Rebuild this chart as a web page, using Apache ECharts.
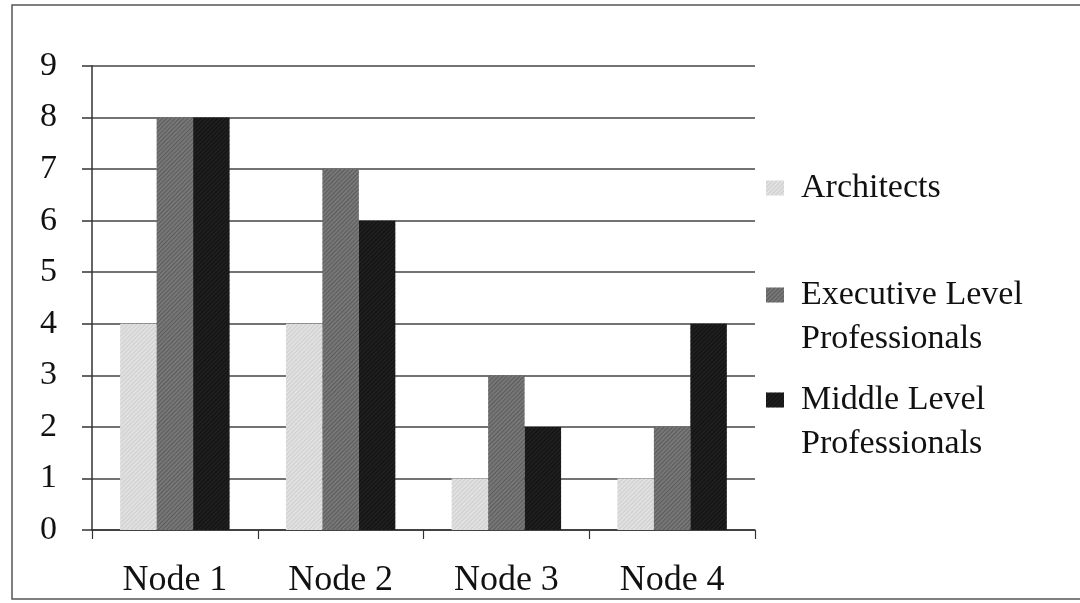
<!DOCTYPE html>
<html>
<head>
<meta charset="utf-8">
<script src="https://cdn.jsdelivr.net/npm/echarts@6/dist/echarts.min.js"></script>
<style>
  html, body { margin: 0; padding: 0; background: #fff; }
  #main { width: 1080px; height: 603px; }
</style>
</head>
<body>
<div id="main"></div>
<script>
// categories and series values
var nodes = ['Node 1', 'Node 2', 'Node 3', 'Node 4'];
var architects = [4, 4, 1, 1];
var executives = [8, 7, 3, 2];
var middles = [8, 6, 2, 4];

var seriesNames = ['Architects', 'Executive Level\nProfessionals', 'Middle Level\nProfessionals'];
var seriesColors = ['#d4d4d4', '#777777', '#1f1f1f'];
var hatchColors = ['rgba(255,255,255,0.45)', 'rgba(40,40,40,0.35)', 'rgba(0,0,0,0.45)'];
var seriesData = [architects, executives, middles];

var serif = "'Liberation Serif', 'Times New Roman', serif";
var myChart = echarts.init(document.getElementById('main'));

// one legend per entry; a blank first line keeps the icon level with the first text line
var legendTops = [171, 234, 339];
var legends = seriesNames.map(function (name, i) {
    return {
        orient: 'vertical',
        left: 766,
        top: legendTops[i],
        padding: 0,
        itemWidth: 18,
        itemHeight: 15,
        itemGap: 0,
        selectedMode: false,
        formatter: function (n) {
            var parts = n.split('\n');
            var body = parts.map(function (p) { return '{t|' + p + '}'; }).join('\n');
            return parts.length > 1 ? '{t| }\n' + body : body;
        },
        textStyle: {
            rich: {
                t: { fontFamily: serif, fontSize: 34, color: '#111', lineHeight: 44, padding: [0, 0, 0, 12] }
            }
        },
        data: [{ name: name, icon: 'rect' }]
    };
});

myChart.setOption({
    animation: false,
    backgroundColor: '#fff',
    graphic: [{
        type: 'rect',
        shape: { x: 12, y: 5, width: 1080, height: 594 },
        style: { fill: 'none', stroke: '#555', lineWidth: 1.5 },
        silent: true
    }],
    legend: legends,
    grid: { left: 92, right: 325, top: 66, bottom: 73 },
    xAxis: {
        type: 'category',
        data: nodes,
        axisLine: { lineStyle: { color: '#333', width: 1.5 } },
        axisTick: { show: true, length: 9, lineStyle: { color: '#333', width: 1.2 } },
        axisLabel: { fontFamily: serif, fontSize: 36, color: '#111', margin: 33 }
    },
    yAxis: {
        type: 'value',
        min: 0,
        max: 9,
        interval: 1,
        axisLine: { show: true, lineStyle: { color: '#333', width: 1.5 } },
        axisTick: { show: true, length: 10, lineStyle: { color: '#333', width: 1.5 } },
        axisLabel: { fontFamily: serif, fontSize: 34, color: '#111', margin: 35 },
        splitLine: { lineStyle: { color: '#444', width: 1.5 } }
    },
    series: seriesNames.map(function (name, i) {
        return {
            name: name,
            type: 'bar',
            data: seriesData[i],
            barGap: '0%',
            barCategoryGap: '34%',
            itemStyle: {
                color: seriesColors[i],
                decal: {
                    symbol: 'rect',
                    color: hatchColors[i],
                    dashArrayX: [1, 0],
                    dashArrayY: [1, 2],
                    rotation: -Math.PI / 4
                }
            }
        };
    })
});
</script>
</body>
</html>
